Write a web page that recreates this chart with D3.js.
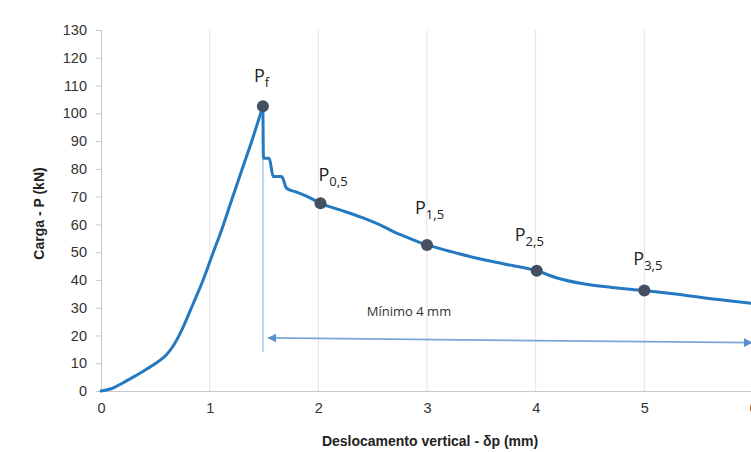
<!DOCTYPE html>
<html>
<head>
<meta charset="utf-8">
<script src="https://cdn.jsdelivr.net/npm/d3@7"></script>
<style>
  html, body { margin: 0; padding: 0; background: #fff; }
  svg { display: block; }
</style>
</head>
<body>
<svg id="chart" width="751" height="452"></svg>
<script>
// Load–displacement curve of the test (displacement in mm, load in kN)
const displacement = [0, 0.1, 0.2, 0.3, 0.4, 0.5, 0.6, 0.65, 0.7, 0.76, 0.85, 0.94, 1.03, 1.11, 1.2, 1.3, 1.4, 1.49,
  1.495, 1.548, 1.585, 1.662, 1.708, 1.8, 1.9, 2.02, 2.2, 2.4, 2.6, 2.7, 2.8, 3.0, 3.2, 3.46, 3.7, 4.01, 4.19, 4.44,
  4.7, 4.99, 5.36, 5.66, 6.0];
const load = [0, 0.9, 2.9, 5.1, 7.4, 9.9, 13.0, 15.4, 18.6, 23.4, 31.6, 40, 49.6, 58, 68.5, 80, 91.5, 102.5,
  83.8, 83.8, 77.2, 77.2, 73, 71.6, 70, 67.6, 65.2, 62.5, 59.2, 57.2, 55.6, 52.6, 50.4, 47.8, 45.8, 43.3, 40.8, 38.6,
  37.3, 36.2, 34.6, 33.0, 31.5];

// Marked points: peak load and loads at 0.5, 1.5, 2.5 and 3.5 mm past the peak
const pointSub = ["f", "0,5", "1,5", "2,5", "3,5"];
const pointX = [1.49, 2.02, 3.0, 4.01, 5.0];
const pointY = [102.5, 67.6, 52.6, 43.3, 36.2];

// Axis ticks
const xTicks = [0, 1, 2, 3, 4, 5, 6];
const yTicks = [0, 10, 20, 30, 40, 50, 60, 70, 80, 90, 100, 110, 120, 130];

// "Mínimo 4 mm" dimension arrow (start and end, in data units)
const spanX = [1.54, 5.99];
const spanY = [19.1, 17.4];

const svg = d3.select("#chart");
const x = d3.scaleLinear().domain([0, 6]).range([101, 753]);
const y = d3.scaleLinear().domain([0, 130]).range([391, 30]);

const axisFont = "'Liberation Sans', Arial, sans-serif";
const labelFont = "'Open Sans', 'Noto Sans', sans-serif";

// vertical gridlines
svg.append("g").selectAll("line").data(xTicks.filter(d => d > 0)).join("line")
  .attr("x1", d => x(d)).attr("x2", d => x(d))
  .attr("y1", y(130)).attr("y2", y(0))
  .attr("stroke", "#e3e3e3").attr("stroke-width", 1);

// y axis
const yAxis = svg.append("g").attr("transform", `translate(${x(0)},0)`)
  .call(d3.axisLeft(y).tickValues(yTicks).tickSize(5).tickPadding(9));
yAxis.select(".domain").attr("stroke", "#c8c8c8");
yAxis.selectAll(".tick line").attr("stroke", "#c8c8c8");
yAxis.selectAll("text").attr("font-family", axisFont).attr("font-size", 14.5).attr("fill", "#333");

// x axis
const xAxis = svg.append("g").attr("transform", `translate(0,${y(0)})`)
  .call(d3.axisBottom(x).tickValues(xTicks).tickSize(0).tickPadding(12).tickFormat(d3.format("d")));
xAxis.select(".domain").attr("stroke", "#c8c8c8");
xAxis.selectAll("text").attr("font-family", axisFont).attr("font-size", 14.5).attr("fill", "#333");

// axis titles
svg.append("text")
  .attr("transform", `translate(44,${(y(130) + y(0)) / 2 + 3}) rotate(-90)`)
  .attr("text-anchor", "middle")
  .attr("font-family", axisFont).attr("font-size", 14).attr("font-weight", "bold").attr("fill", "#222")
  .text("Carga - P (kN)");
svg.append("text")
  .attr("x", 430).attr("y", 446)
  .attr("text-anchor", "middle")
  .attr("font-family", axisFont).attr("font-size", 14).attr("font-weight", "bold").attr("fill", "#222")
  .text("Deslocamento vertical - δp (mm)");

// reference line from the peak down to the dimension arrow
svg.append("line")
  .attr("x1", x(pointX[0])).attr("x2", x(pointX[0]))
  .attr("y1", y(pointY[0])).attr("y2", y(14))
  .attr("stroke", "#a9c6e8").attr("stroke-width", 1.5);

// dimension arrow
const defs = svg.append("defs");
defs.append("marker").attr("id", "head").attr("viewBox", "0 0 10 10")
  .attr("refX", 9).attr("refY", 5).attr("markerWidth", 5).attr("markerHeight", 5)
  .attr("orient", "auto-start-reverse")
  .append("path").attr("d", "M0,0 L10,5 L0,10 Z").attr("fill", "#5b8fce");
svg.append("line")
  .attr("x1", x(spanX[0])).attr("y1", y(spanY[0]))
  .attr("x2", x(spanX[1])).attr("y2", y(spanY[1]))
  .attr("stroke", "#7aa5d8").attr("stroke-width", 1.8)
  .attr("marker-start", "url(#head)").attr("marker-end", "url(#head)");
svg.append("text")
  .attr("x", 409).attr("y", 316)
  .attr("text-anchor", "middle")
  .attr("font-family", labelFont).attr("font-size", 13).attr("fill", "#333")
  .text("Mínimo 4 mm");

// load–displacement curve: loading branch up to the peak, then the post-peak branch
const pts = displacement.map((d, i) => [d, load[i]]);
const peakIdx = load.indexOf(d3.max(load));
const lineGen = d3.line().x(d => x(d[0])).y(d => y(d[1])).curve(d3.curveMonotoneX);
svg.append("g").selectAll("path")
  .data([pts.slice(0, peakIdx + 1), pts.slice(peakIdx)])
  .join("path")
  .attr("d", lineGen)
  .attr("fill", "none").attr("stroke", "#2479c0").attr("stroke-width", 3)
  .attr("stroke-linejoin", "round").attr("stroke-linecap", "round");

// marked points
svg.append("g").selectAll("circle").data(pointX).join("circle")
  .attr("cx", d => x(d)).attr("cy", (d, i) => y(pointY[i]))
  .attr("r", 6).attr("fill", "#444f61");

// point labels P with subscripts
const labelOffsets = [[-9, -24], [-2, -22], [-12, -31], [-22, -30], [-11, -25]];
const lbl = svg.append("g").selectAll("text").data(pointX).join("text")
  .attr("x", (d, i) => x(d) + labelOffsets[i][0])
  .attr("y", (d, i) => y(pointY[i]) + labelOffsets[i][1])
  .attr("font-family", labelFont).attr("font-size", 18).attr("fill", "#222");
lbl.append("tspan").text("P");
lbl.append("tspan").attr("dy", 5).attr("font-size", 13).text((d, i) => pointSub[i]);
</script>
</body>
</html>
